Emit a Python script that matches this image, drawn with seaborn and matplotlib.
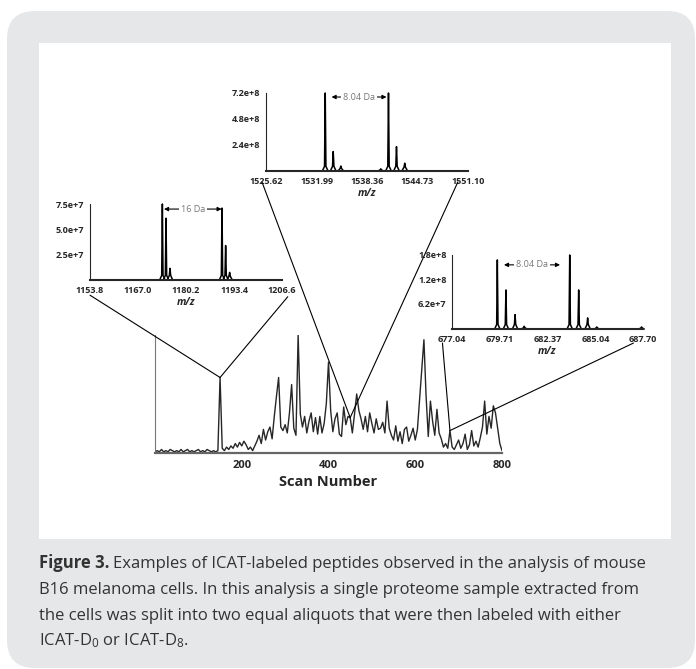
import numpy as np
import pandas as pd
import matplotlib
matplotlib.use("Agg")
import matplotlib.pyplot as plt
import seaborn as sns
from matplotlib.patches import FancyBboxPatch, Rectangle, ConnectionPatch

# ---- chromatogram (relative intensity, every 5th scan) ----
scans = list(range(0, 801, 5))
tic = [1, 2, 1, 3, 1, 2, 1, 3, 2, 1,
       2, 1, 3, 1, 2, 3, 1, 2, 1, 2,
       3, 1, 2, 1, 3, 2, 1, 2, 1, 2,
       64, 4, 2, 5, 3, 6, 4, 8, 5, 9,
       6, 10, 7, 3, 5, 2, 6, 10, 15, 8,
       20, 11, 18, 22, 12, 31, 48, 64, 22, 19,
       24, 17, 34, 58, 21, 15, 100, 33, 22, 31,
       17, 27, 34, 18, 30, 16, 31, 17, 25, 42,
       77, 36, 18, 29, 34, 16, 14, 39, 24, 31,
       30, 17, 33, 50, 36, 29, 20, 31, 18, 34,
       25, 17, 29, 20, 21, 26, 17, 44, 21, 15,
       11, 23, 10, 18, 8, 20, 22, 10, 15, 21,
       11, 20, 45, 70, 96, 48, 14, 44, 27, 15,
       37, 17, 12, 5, 8, 4, 19, 5, 3, 7,
       11, 4, 8, 16, 3, 7, 19, 6, 10, 5,
       13, 22, 44, 16, 31, 21, 40, 34, 21, 8, 2]
scan_ticks = [200, 400, 600, 800]

# ---- mass spectra shown in the three insets ----
mz_a = [1173.7, 1174.7, 1175.8, 1190.1, 1191.1, 1192.2]
int_a = [7.5e7, 6.1e7, 1.15e7, 7.1e7, 3.4e7, 0.75e7]
xt_a = [1153.8, 1167.0, 1180.2, 1193.4, 1206.6]
xl_a = ["1153.8", "1167.0", "1180.2", "1193.4", "1206.6"]
yt_a = [2.5e7, 5.0e7, 7.5e7]
yl_a = ["2.5e+7", "5.0e+7", "7.5e+7"]

mz_b = [1533.09, 1534.10, 1535.06, 1540.10, 1541.07, 1542.08, 1543.12]
int_b = [7.2e8, 1.8e8, 0.46e8, 0.2e8, 7.2e8, 2.25e8, 0.72e8]
xt_b = [1525.62, 1531.99, 1538.36, 1544.73, 1551.10]
xl_b = ["1525.62", "1531.99", "1538.36", "1544.73", "1551.10"]
yt_b = [2.4e8, 4.8e8, 7.2e8]
yl_b = ["2.4e+8", "4.8e+8", "7.2e+8"]

mz_c = [679.57, 680.05, 680.56, 681.07, 683.61, 684.11, 684.61, 685.12, 687.62]
int_c = [1.68e8, 0.95e8, 0.35e8, 0.065e8, 1.8e8, 0.95e8, 0.27e8, 0.05e8, 0.05e8]
xt_c = [677.04, 679.71, 682.37, 685.04, 687.70]
xl_c = ["677.04", "679.71", "682.37", "685.04", "687.70"]
yt_c = [6.2e7, 1.2e8, 1.8e8]
yl_c = ["6.2e+7", "1.2e+8", "1.8e+8"]

# mass-difference labels: (from, to, height, text)
gap_a = (1174.15, 1190.0, 7.0e7, "16 Da")
gap_b = (1533.89, 1540.82, 6.83e8, "8.04 Da")
gap_c = (679.94, 683.07, 1.56e8, "8.04 Da")

# scan / intensity on the chromatogram each inset is taken from
src_a = (150, 64)
src_b = (450, 30)
src_c = (680, 19)

caption_head = "Figure 3."
caption = [
    "Examples of ICAT-labeled peptides observed in the analysis of mouse",
    "B16 melanoma cells. In this analysis a single proteome sample extracted from",
    "the cells was split into two equal aliquots that were then labeled with either",
    r"ICAT-D$_0$ or ICAT-D$_8$.",
]

sns.set_style("white")
plt.rcParams["font.family"] = ["Open Sans", "DejaVu Sans"]
plt.rcParams["mathtext.fontset"] = "custom"
plt.rcParams["mathtext.rm"] = "Open Sans"
plt.rcParams["mathtext.bf"] = "Open Sans:bold"
plt.rcParams["mathtext.it"] = "Open Sans:italic"

W, H = 696, 669
fig = plt.figure(figsize=(W / 100, H / 100), dpi=100)


def px_box(x0, y0, x1, y1):
    # pixel box (top-left origin) -> figure fraction rect
    return [x0 / W, 1 - y1 / H, (x1 - x0) / W, (y1 - y0) / H]


# background frame
fig.add_artist(FancyBboxPatch((7 / W, 1 - 668 / H), 688 / W, 657 / H,
                              boxstyle="round,pad=0,rounding_size=0.04",
                              mutation_aspect=W / H, transform=fig.transFigure,
                              fc="#e6e7e8", ec="none", zorder=-2))
fig.add_artist(Rectangle((39 / W, 1 - 539 / H), 632 / W, 496 / H,
                         transform=fig.transFigure, fc="white", ec="none", zorder=-1))

# ---- main chromatogram ----
ax = fig.add_axes(px_box(155, 335, 502, 453))
ax.set_facecolor("none")
sns.lineplot(x=scans, y=tic, ax=ax, color="#262626", lw=1.0)
ax.set_xlim(0, 800)
ax.set_ylim(0, 100)
ax.set_xticks(scan_ticks)
ax.set_xticklabels([str(s) for s in scan_ticks], fontsize=8, fontweight="bold")
ax.set_yticks([])
ax.tick_params(axis="x", direction="out", length=3, width=1, color="#666666", pad=2)
for s in ["top", "right"]:
    ax.spines[s].set_visible(False)
ax.spines["bottom"].set_color("#666666")
ax.spines["bottom"].set_linewidth(1.6)
ax.spines["left"].set_color("#777777")
ax.spines["left"].set_linewidth(0.8)
ax.set_xlabel("Scan Number", fontsize=10.5, fontweight="bold", labelpad=3)
ax.set_ylabel("")


def spectrum(rect, mz, inten, xt, xl, yt, yl, gap):
    a = fig.add_axes(px_box(*rect))
    a.set_facecolor("none")
    span = xt[-1] - xt[0]
    w = span * 0.014
    ytop = yt[-1]
    rows = []
    for i, (m, h) in enumerate(zip(mz, inten)):
        foot = min(0.06 * ytop, 0.5 * h)
        for dx, y in [(-w, 0), (-0.25 * w, foot), (0, h), (0.25 * w, foot), (w, 0)]:
            rows.append({"mz": m + dx, "i": y, "peak": i})
    df = pd.DataFrame(rows)
    sns.lineplot(data=df, x="mz", y="i", units="peak", estimator=None, sort=False,
                 ax=a, color="black", lw=1.1, clip_on=False)
    a.set_xlim(xt[0], xt[-1])
    a.set_ylim(0, ytop)
    a.set_xticks(xt)
    a.set_xticklabels(xl, fontsize=6.5, fontweight="bold")
    a.set_yticks(yt)
    a.set_yticklabels(yl, fontsize=6.5, fontweight="bold")
    a.tick_params(direction="out", length=2.5, width=0.8, pad=1.5)
    for s in ["top", "right"]:
        a.spines[s].set_visible(False)
    a.spines["bottom"].set_linewidth(1.5)
    a.spines["left"].set_linewidth(0.8)
    a.set_xlabel("m/z", fontsize=7.5, fontweight="bold", fontstyle="italic", labelpad=1.5)
    a.set_ylabel("")
    x0, x1, yv, txt = gap
    a.annotate("", xy=(x1, yv), xytext=(x0, yv),
               arrowprops=dict(arrowstyle="<|-|>", color="black", lw=0.8,
                               mutation_scale=6, shrinkA=0, shrinkB=0))
    a.text((x0 + x1) / 2, yv, txt, ha="center", va="center", fontsize=6.5,
           color="#777777", bbox=dict(fc="white", ec="none", pad=1.2), zorder=5)
    return a


ax_a = spectrum((90, 204, 282, 280), mz_a, int_a, xt_a, xl_a, yt_a, yl_a, gap_a)
ax_b = spectrum((266, 93, 468, 171), mz_b, int_b, xt_b, xl_b, yt_b, yl_b, gap_b)
ax_c = spectrum((452, 255, 643, 329), mz_c, int_c, xt_c, xl_c, yt_c, yl_c, gap_c)

# zoom connector lines
for inset, src, ends in [(ax_a, src_a, [(0.0, -0.2), (1.03, -0.22)]),
                         (ax_b, src_b, [(-0.02, -0.14), (0.95, -0.14)]),
                         (ax_c, src_c, [(-0.05, -0.19), (0.95, -0.19)])]:
    for e in ends:
        fig.add_artist(ConnectionPatch(xyA=e, coordsA=inset.transAxes, xyB=src,
                                       coordsB=ax.transData, color="black", lw=0.8,
                                       zorder=5))

# caption, first line starts with a bold figure label
cap_kw = dict(fontsize=12, color="#333333", ha="left", va="baseline")
base0 = 1 - 568 / H
head = fig.text(39 / W, base0, caption_head, fontweight="bold", **cap_kw)
bb = head.get_window_extent(renderer=fig.canvas.get_renderer())
fig.text((bb.x1 + 4) / W, base0, caption[0], **cap_kw)
for k, line in enumerate(caption[1:], start=1):
    fig.text(39 / W, 1 - (568 + 25.8 * k) / H, line, **cap_kw)

fig.savefig("out.png", dpi=100)
